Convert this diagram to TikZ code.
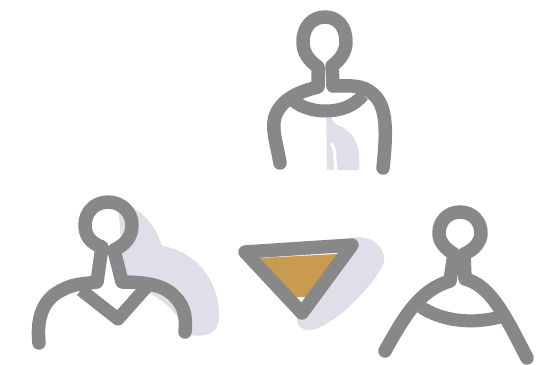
\documentclass[tikz,border=0pt]{standalone}
\usepackage{xcolor}
\usepackage{tikz}
\definecolor{FigureGray}{HTML}{888888}
\definecolor{ShadowLilac}{HTML}{E0DFE9}
\definecolor{BadgeGold}{HTML}{C89B4E}
\tikzset{
  figline/.style={draw=FigureGray, line width=13.5pt, line cap=round, line join=round},
  figthin/.style={draw=FigureGray, line width=13pt, line cap=butt, line join=round},
  shadowblob/.style={fill=ShadowLilac, draw=none},
  badgefill/.style={fill=BadgeGold, draw=none}
}

\begin{document}
\begin{tikzpicture}[x=1pt, y=-1pt]
  \useasboundingbox (0,0) rectangle (540,364);

  % top figure
  \fill[shadowblob] (326,102) .. controls (328,112) and (331,121) .. (337,125)
    .. controls (352,130) and (361,142) .. (359,170) -- (327,170) -- cycle;
  \draw[white, line width=3pt] (331,143) .. controls (336,148) and (334,156) .. (336,170);
  \draw[figthin] (293,100) .. controls (305,113) and (345,118) .. (363,95);
  \draw[figline] (280,163) .. controls (276,140) and (270,125) .. (277,112)
    .. controls (285,97) and (302,91) .. (318,87) -- (318,67)
    .. controls (308,60) and (303,52) .. (303,42)
    .. controls (303,26) and (313,17) .. (325,17)
    .. controls (338,17) and (346,27) .. (346,42)
    .. controls (346,52) and (340,60) .. (332,66) -- (333,86)
    .. controls (350,86) and (362,84) .. (373,94)
    .. controls (387,106) and (387,130) .. (383,168);

  % left figure
  \fill[shadowblob] (118,205) .. controls (140,205) and (155,225) .. (162,246)
    .. controls (190,250) and (220,275) .. (219,318)
    .. controls (218,335) and (205,337) .. (190,335)
    .. controls (178,320) and (170,295) .. (125,285) -- cycle;
  \draw[figthin] (81,290) -- (118,319) -- (150,283);
  \draw[figline] (39,343) .. controls (36,315) and (45,298) .. (62,290)
    .. controls (75,283) and (85,284) .. (97,282) -- (102,247)
    .. controls (90,243) and (85,235) .. (85,225)
    .. controls (85,212) and (95,202) .. (108,202)
    .. controls (121,202) and (132,212) .. (132,225)
    .. controls (132,237) and (125,245) .. (114,250) -- (122,282)
    .. controls (145,282) and (165,285) .. (175,297)
    .. controls (186,308) and (186,320) .. (185,332);

  % triangle
  \fill[shadowblob] (352,238) .. controls (368,234) and (386,245) .. (384,262)
    .. controls (375,285) and (335,325) .. (312,330)
    .. controls (300,332) and (294,322) .. (298,312) -- cycle;
  \fill[badgefill] (260,258) -- (337,254) -- (307,297) -- (293,297) -- cycle;
  \draw[figline] (245,252) -- (352,245) -- (302,313) -- cycle;

  % right figure
  \draw[figthin] (421,307) .. controls (440,320) and (470,325) .. (500,317);
  \draw[figline] (385,351) .. controls (405,315) and (420,290) .. (450,281) -- (454,254)
    .. controls (444,248) and (439,241) .. (439,233)
    .. controls (439,221) and (448,212) .. (460,212)
    .. controls (472,212) and (481,221) .. (481,233)
    .. controls (481,242) and (474,250) .. (464,254) -- (465,279)
    .. controls (490,285) and (505,315) .. (527,358);
\end{tikzpicture}
\end{document}
